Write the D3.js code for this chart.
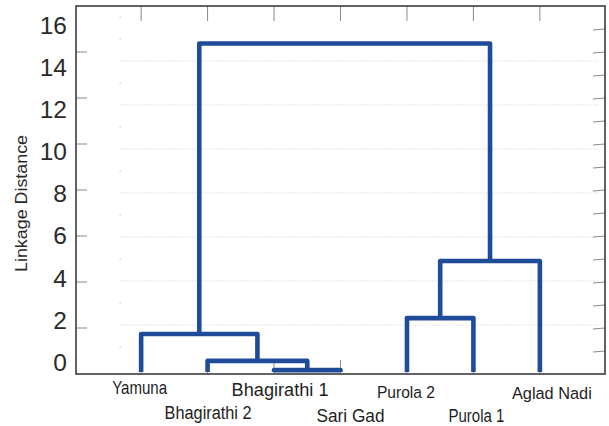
<!DOCTYPE html>
<html>
<head>
<meta charset="utf-8">
<script src="https://cdn.jsdelivr.net/npm/d3@7"></script>
<style>
  html, body { margin: 0; padding: 0; background: #fff; }
  svg { display: block; font-family: "Liberation Sans", Arial, sans-serif; }
</style>
</head>
<body>
<svg id="chart" width="609" height="426"></svg>
<script>
// Sampling sites (leaf order of the dendrogram)
const leaves = ["Yamuna", "Bhagirathi 2", "Bhagirathi 1", "Sari Gad", "Purola 2", "Purola 1", "Aglad Nadi"];

// Linkage table: node ids 0..6 are leaves, each merge creates node 7, 8, ...
const linkA = [2, 1, 0, 4, 10, 9];
const linkB = [3, 7, 8, 5, 6, 11];
const linkHeight = [0.17, 0.57, 1.74, 2.43, 4.91, 14.37];

// Axis ticks
const yTickLabels = [0, 2, 4, 6, 8, 10, 12, 14, 16];
const yMinorTicks = [1, 2, 3, 4, 5, 6, 7, 8, 9, 10, 11, 12, 13, 14, 15];
const gridValues = [2, 4, 6, 8, 10, 12, 14];
const gridDots = [1, 3, 5, 7, 9, 11, 13, 15, 16];

// Leaf label placement (offset from leaf, baseline, size, width)
const labelStyle = [
  { dx: -1.5, y: 393.5, size: 17.5, len: 55 },
  { dx: 0.5,  y: 418.5, size: 19,   len: 87 },
  { dx: 6,    y: 396,   size: 18.5, len: 97 },
  { dx: 10,   y: 422,   size: 18.5, len: 68 },
  { dx: -1,   y: 397.5, size: 16.5, len: 58 },
  { dx: 3,    y: 422,   size: 18.5, len: 56 },
  { dx: 12,   y: 398.5, size: 17,   len: 80 }
];

const svg = d3.select("#chart");
const plot = { left: 76, right: 605, top: 6, bottom: 374 };

const x = d3.scalePoint().domain(leaves).range([plot.left, plot.right]).padding(0.98);
const y = d3.scaleLinear().domain([0, 16]).range([plot.bottom, plot.top]);
// tick labels sit on their own evenly spaced ladder
const yLabel = d3.scaleLinear().domain([0, 16]).range([362, 25]);
// faint background grid
const yGrid = d3.scaleLinear().domain([0, 16]).range([369, 17]);

// grid lines
svg.append("g").selectAll("line").data(gridValues).join("line")
  .attr("x1", 120).attr("x2", 598)
  .attr("y1", d => yGrid(d)).attr("y2", d => yGrid(d))
  .attr("stroke", "#dcdcdc").attr("stroke-width", 1)
  .attr("stroke-dasharray", "1.5,1.5");
svg.append("g").selectAll("rect").data(gridDots).join("rect")
  .attr("x", 119.5).attr("y", d => yGrid(d) - 0.5)
  .attr("width", 1.5).attr("height", 1.2).attr("fill", "#cfcfcf");

// inner tick marks
const tickCol = "#8a8a8a";
svg.append("g").selectAll("line").data(yTickLabels.filter(d => d > 0 && d < 16)).join("line")
  .attr("x1", plot.left).attr("x2", plot.left + 11)
  .attr("y1", d => y(d)).attr("y2", d => y(d))
  .attr("stroke", tickCol).attr("stroke-width", 1);
svg.append("g").selectAll("line").data(yMinorTicks).join("line")
  .attr("x1", plot.right - 12).attr("x2", plot.right)
  .attr("y1", d => y(d) + 1).attr("y2", d => y(d))
  .attr("stroke", tickCol).attr("stroke-width", 1);
svg.append("g").selectAll("line").data(leaves).join("line")
  .attr("x1", d => x(d)).attr("x2", d => x(d))
  .attr("y1", plot.top).attr("y2", plot.top + 15)
  .attr("stroke", tickCol).attr("stroke-width", 1);
svg.append("g").selectAll("line").data(leaves).join("line")
  .attr("x1", d => x(d)).attr("x2", d => x(d))
  .attr("y1", plot.bottom).attr("y2", plot.bottom - 14)
  .attr("stroke", tickCol).attr("stroke-width", 1);

// dendrogram links
const nodeX = leaves.map(d => x(d));
const nodeH = leaves.map(() => 0);
const links = [];
linkA.forEach((a, i) => {
  const b = linkB[i], h = linkHeight[i];
  links.push({ xa: nodeX[a], ha: nodeH[a], xb: nodeX[b], hb: nodeH[b], h });
  nodeX.push((nodeX[a] + nodeX[b]) / 2);
  nodeH.push(h);
});
const base = h => h === 0 ? y(0) - 2 : y(h);
svg.append("g").selectAll("path").data(links).join("path")
  .attr("d", d => `M${d.xa},${base(d.ha)}V${y(d.h)}H${d.xb}V${base(d.hb)}`)
  .attr("fill", "none").attr("stroke", "#1f4c98")
  .attr("stroke-width", 4.6).attr("stroke-linejoin", "round");

// frame
svg.append("rect")
  .attr("x", plot.left).attr("y", plot.top)
  .attr("width", plot.right - plot.left).attr("height", plot.bottom - plot.top)
  .attr("fill", "none").attr("stroke", "#3c3c3c").attr("stroke-width", 1.6);

// y tick labels
svg.append("g").selectAll("text").data(yTickLabels).join("text")
  .attr("x", 67).attr("y", d => yLabel(d))
  .attr("dy", "0.36em").attr("text-anchor", "end")
  .attr("font-size", 24.5).attr("fill", "#2a2a2a")
  .text(d => d);

// y axis title
svg.append("text")
  .attr("transform", "translate(27,203.5) rotate(-90)")
  .attr("text-anchor", "middle")
  .attr("font-size", 16.5).attr("fill", "#2a2a2a")
  .attr("textLength", 137).attr("lengthAdjust", "spacingAndGlyphs")
  .text("Linkage Distance");

// leaf labels: condensed horizontally to the target width
svg.append("g").selectAll("text").data(leaves).join("text")
  .attr("text-anchor", "middle")
  .attr("font-size", (d, i) => labelStyle[i].size)
  .attr("fill", "#1e1e1e")
  .text(d => d)
  .each(function (d, i) {
    const s = labelStyle[i];
    const w = this.getComputedTextLength();
    const sx = w > 0 ? s.len / w : 1;
    d3.select(this).attr("transform",
      `translate(${x(d) + s.dx},${s.y}) scale(${sx},1)`);
  });
</script>
</body>
</html>
